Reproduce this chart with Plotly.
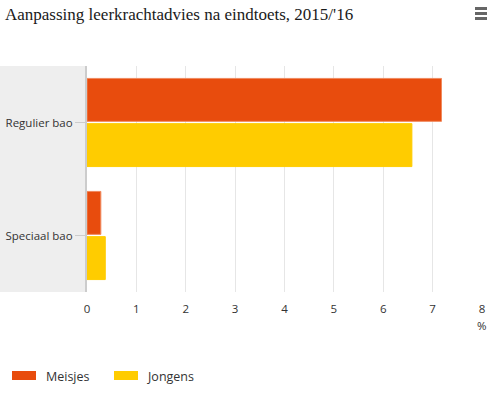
import plotly.graph_objects as go

categories = ["Regulier bao", "Speciaal bao"]
meisjes = [7.18, 0.28]
jongens = [6.58, 0.37]
series_names = ["Meisjes", "Jongens"]
series_colors = ["#E84C0D", "#FFCC00"]
x_ticks = [0, 1, 2, 3, 4, 5, 6, 7, 8]

W, H = 498, 395
L, R, T, B = 87, 16, 66, 103
plot_w = W - L - R
plot_h = H - T - B


def px_x(px):
    return (px - L) / plot_w


def px_y(py):
    return 1 - (py - T) / plot_h


fig = go.Figure()
fig.add_trace(go.Bar(y=categories, x=meisjes, name=series_names[0], orientation="h",
                     marker=dict(color=series_colors[0], line=dict(color="#F08A5E", width=1))))
fig.add_trace(go.Bar(y=categories, x=jongens, name=series_names[1], orientation="h",
                     marker=dict(color=series_colors[1], line=dict(color=series_colors[1], width=1))))

fig.update_layout(
    width=W, height=H,
    margin=dict(l=L, r=R, t=T, b=B, autoexpand=False),
    paper_bgcolor="white", plot_bgcolor="white",
    barmode="group", bargap=0.2, bargroupgap=0.05,
    font=dict(family="Open Sans", size=11.5, color="#333333"),
    title=dict(text="Aanpassing leerkrachtadvies na eindtoets, 2015/'16",
               x=5 / W, xanchor="left", yref="container", y=1 - 14 / H, yanchor="middle",
               font=dict(family="Liberation Serif", size=17, color="#1a1a1a")),
    xaxis=dict(range=[0, 8], tickvals=x_ticks, showgrid=True, gridcolor="#e6e6e6",
               gridwidth=1, zeroline=False, showline=False, ticks="", automargin=False,
               ticklabelstandoff=8, tickfont=dict(size=11.5, color="#333333"), fixedrange=True),
    yaxis=dict(autorange="reversed", showline=True, linecolor="#cccccc", linewidth=2,
               ticks="outside", ticklen=10, tickcolor="#cccccc", tickwidth=1, automargin=False,
               showgrid=False, tickfont=dict(size=11.5, color="#333333"), fixedrange=True),
    showlegend=False,
    hovermode=False,
)

# gray band behind category labels
fig.add_shape(type="rect", xref="paper", yref="paper", x0=px_x(0), x1=0, y0=0, y1=1,
              fillcolor="#eeeeee", line=dict(width=0), layer="below")

# axis unit
fig.add_annotation(text="%", xref="paper", yref="paper", x=1, y=px_y(325),
                   xanchor="center", yanchor="middle", showarrow=False,
                   font=dict(size=11.5, color="#333333"))

# legend (drawn manually to match wide rectangular swatches)
legend_pos = [(12, 44), (114, 145)]
for name, color, (sx, tx) in zip(series_names, series_colors, legend_pos):
    fig.add_shape(type="rect", xref="paper", yref="paper",
                  x0=px_x(sx), x1=px_x(sx + 24), y0=px_y(380), y1=px_y(371),
                  fillcolor=color, line=dict(width=0))
    fig.add_annotation(text=name, xref="paper", yref="paper", x=px_x(tx), y=px_y(376),
                       xanchor="left", yanchor="middle", showarrow=False,
                       font=dict(size=12.5, color="#333333"))

# menu icon
for dy in (8.5, 13.5, 18.5):
    fig.add_shape(type="line", xref="paper", yref="paper",
                  x0=px_x(475), x1=px_x(487), y0=px_y(dy), y1=px_y(dy),
                  line=dict(color="#666666", width=3))

fig.write_html("out.html", config={"displayModeBar": False},
               post_script="document.body.style.margin='0';document.body.style.overflow='hidden';")
